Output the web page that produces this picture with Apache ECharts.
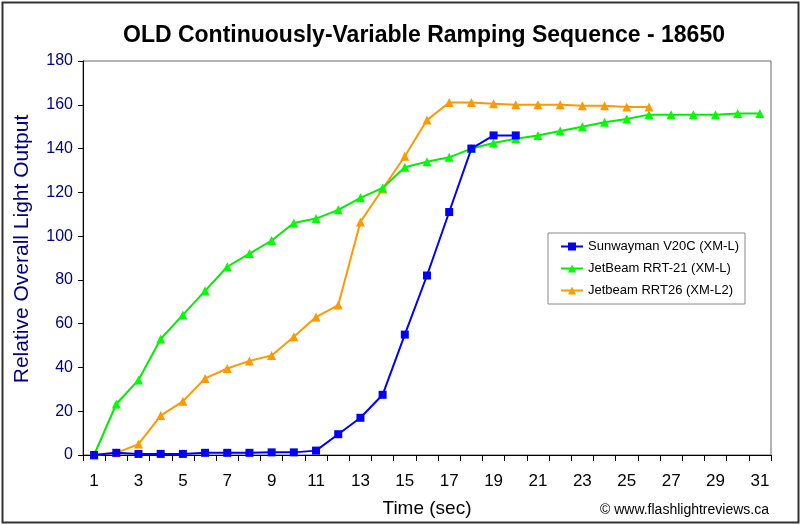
<!DOCTYPE html>
<html><head><meta charset="utf-8">
<script src="https://cdn.jsdelivr.net/npm/echarts@6/dist/echarts.min.js"></script>
<style>html,body{margin:0;padding:0;background:#fff}#c{width:800px;height:525px}</style>
</head><body><div id="c"></div>
<script>
var categories = ['1','2','3','4','5','6','7','8','9','10','11','12','13','14','15','16','17','18','19','20','21','22','23','24','25','26','27','28','29','30','31'];
var sunwayman = [0,1,0.5,0.5,0.5,1,1,1,1.2,1.2,2,9.5,17,27.5,55,82,111,140,146,146];
var rrt21 = [0,23.3,34.3,53,64,75,86,92,98,106,108,112,117.5,122,131.5,134,136,140,142.5,144.5,146,148,150,152,153.5,155.5,155.5,155.5,155.5,156,156];
var rrt26 = [0,1,5,18,24.5,35,39.5,43,45.5,54,63,68.5,106.5,121.5,136.5,153,161,161,160.5,160,160,160,159.5,159.5,159,159];
var seriesNames = ['Sunwayman V20C (XM-L)','JetBeam RRT-21 (XM-L)','Jetbeam RRT26 (XM-L2)'];
var yMin = 0, yMax = 180, yStep = 20;

var chart = echarts.init(document.getElementById('c'), null, {renderer:'canvas'});
chart.setOption({
  animation:false,
  backgroundColor:'#fff',
  title:{text:'OLD Continuously-Variable Ramping Sequence - 18650', left:419, top:19, textAlign:'center',
    textStyle:{fontFamily:'Arial, Liberation Sans',fontSize:23,fontWeight:'bold',color:'#000'}},
  grid:{left:83,right:29,top:61,bottom:70,show:true,borderColor:'#666',borderWidth:1},
  legend:{orient:'vertical',left:548,top:233,padding:[7,6,7,12],itemGap:9,itemWidth:22,itemHeight:10,
    backgroundColor:'#fff',borderColor:'#888',borderWidth:1,borderRadius:0,
    textStyle:{fontFamily:'Arial, Liberation Sans',fontSize:13,color:'#000'},
    data:seriesNames},
  xAxis:{type:'category',data:categories,boundaryGap:true,
    axisLine:{lineStyle:{color:'#000',width:1}},
    axisTick:{show:true,interval:0,length:6,lineStyle:{color:'#000'}},
    axisLabel:{interval:1,fontFamily:'Arial, Liberation Sans',fontSize:17,color:'#000',margin:18},
    name:'Time (sec)',nameLocation:'middle',nameGap:44,
    nameTextStyle:{fontFamily:'Arial, Liberation Sans',fontSize:19,color:'#000'}},
  yAxis:{type:'value',min:yMin,max:yMax,interval:yStep,
    axisLine:{show:true,lineStyle:{color:'#000'}},
    axisTick:{show:true,length:5,lineStyle:{color:'#000'}},
    splitLine:{show:false},
    axisLabel:{fontFamily:'Arial, Liberation Sans',fontSize:16,color:'#000080',margin:10},
    name:'Relative Overall Light Output',nameLocation:'middle',nameGap:50,
    nameTextStyle:{fontFamily:'Arial, Liberation Sans',fontSize:21,color:'#000080',padding:[0,0,0,18]}},
  graphic:[
    {type:'rect',left:0,top:0,shape:{x:1,y:1,width:796,height:520},style:{fill:'none',stroke:'#333',lineWidth:2},silent:true},
    {type:'text',right:31,top:503,style:{text:'© www.flashlightreviews.ca',font:'14px Arial, Liberation Sans',fill:'#000'}}
  ],
  series:[
    {name:seriesNames[0],type:'line',data:sunwayman,symbol:'rect',symbolSize:8,
      itemStyle:{color:'#0000FF'},lineStyle:{color:'#0000FF',width:2},z:3},
    {name:seriesNames[1],type:'line',data:rrt21,symbol:'triangle',symbolSize:9,
      itemStyle:{color:'#00FF00'},lineStyle:{color:'#00EE00',width:2},z:2},
    {name:seriesNames[2],type:'line',data:rrt26,symbol:'triangle',symbolSize:9,
      itemStyle:{color:'#FF9900'},lineStyle:{color:'#FF9900',width:2},z:1}
  ]
});
</script></body></html>
